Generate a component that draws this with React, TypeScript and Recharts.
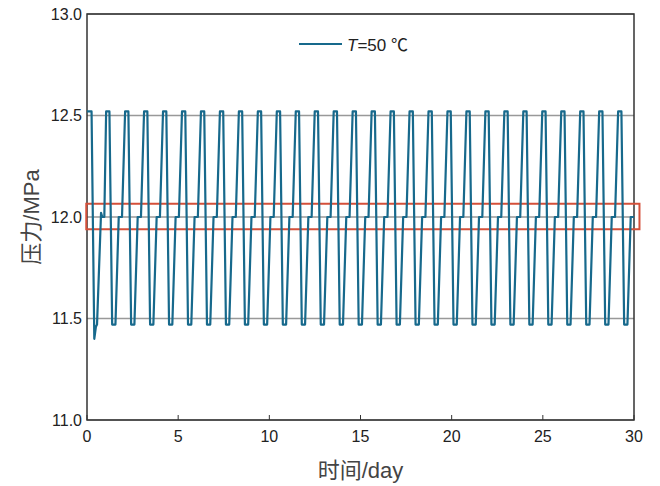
import {
	LineChart,
	Line,
	XAxis,
	YAxis,
	CartesianGrid,
	ReferenceArea,
	Legend,
} from "recharts";

// time in days, pressure in MPa (T = 50 ℃)
const timeDays = [
	0, 0.25, 0.4, 0.49, 0.55, 0.77, 0.84, 0.95,
	1.05, 1.23, 1.38, 1.56, 1.74, 1.92,
	2.09, 2.27, 2.42, 2.6, 2.78, 2.96,
	3.13, 3.31, 3.46, 3.64, 3.82, 4.0,
	4.17, 4.35, 4.5, 4.68, 4.86, 5.04,
	5.21, 5.39, 5.54, 5.72, 5.9, 6.08,
	6.25, 6.43, 6.58, 6.76, 6.94, 7.12,
	7.29, 7.47, 7.62, 7.8, 7.98, 8.16,
	8.33, 8.51, 8.66, 8.84, 9.02, 9.2,
	9.37, 9.55, 9.7, 9.88, 10.06, 10.24,
	10.41, 10.59, 10.74, 10.92, 11.1, 11.28,
	11.45, 11.63, 11.78, 11.96, 12.14, 12.32,
	12.49, 12.67, 12.82, 13.0, 13.18, 13.36,
	13.53, 13.71, 13.86, 14.04, 14.22, 14.4,
	14.57, 14.75, 14.9, 15.08, 15.26, 15.44,
	15.61, 15.79, 15.94, 16.12, 16.3, 16.48,
	16.65, 16.83, 16.98, 17.16, 17.34, 17.52,
	17.69, 17.87, 18.02, 18.2, 18.38, 18.56,
	18.73, 18.91, 19.06, 19.24, 19.42, 19.6,
	19.77, 19.95, 20.1, 20.28, 20.46, 20.64,
	20.81, 20.99, 21.14, 21.32, 21.5, 21.68,
	21.85, 22.03, 22.18, 22.36, 22.54, 22.72,
	22.89, 23.07, 23.22, 23.4, 23.58, 23.76,
	23.93, 24.11, 24.26, 24.44, 24.62, 24.8,
	24.97, 25.15, 25.3, 25.48, 25.66, 25.84,
	26.01, 26.19, 26.34, 26.52, 26.7, 26.88,
	27.05, 27.23, 27.38, 27.56, 27.74, 27.92,
	28.09, 28.27, 28.42, 28.6, 28.78, 28.96,
	29.13, 29.31, 29.46, 29.64, 29.82, 30.0,
];

const pressure = [
	12.52, 12.52, 11.4, 11.46, 11.47, 12.02, 12.0, 12.0,
	12.52, 12.52, 11.47, 11.47, 12.0, 12.0,
	12.52, 12.52, 11.47, 11.47, 12.0, 12.0,
	12.52, 12.52, 11.47, 11.47, 12.0, 12.0,
	12.52, 12.52, 11.47, 11.47, 12.0, 12.0,
	12.52, 12.52, 11.47, 11.47, 12.0, 12.0,
	12.52, 12.52, 11.47, 11.47, 12.0, 12.0,
	12.52, 12.52, 11.47, 11.47, 12.0, 12.0,
	12.52, 12.52, 11.47, 11.47, 12.0, 12.0,
	12.52, 12.52, 11.47, 11.47, 12.0, 12.0,
	12.52, 12.52, 11.47, 11.47, 12.0, 12.0,
	12.52, 12.52, 11.47, 11.47, 12.0, 12.0,
	12.52, 12.52, 11.47, 11.47, 12.0, 12.0,
	12.52, 12.52, 11.47, 11.47, 12.0, 12.0,
	12.52, 12.52, 11.47, 11.47, 12.0, 12.0,
	12.52, 12.52, 11.47, 11.47, 12.0, 12.0,
	12.52, 12.52, 11.47, 11.47, 12.0, 12.0,
	12.52, 12.52, 11.47, 11.47, 12.0, 12.0,
	12.52, 12.52, 11.47, 11.47, 12.0, 12.0,
	12.52, 12.52, 11.47, 11.47, 12.0, 12.0,
	12.52, 12.52, 11.47, 11.47, 12.0, 12.0,
	12.52, 12.52, 11.47, 11.47, 12.0, 12.0,
	12.52, 12.52, 11.47, 11.47, 12.0, 12.0,
	12.52, 12.52, 11.47, 11.47, 12.0, 12.0,
	12.52, 12.52, 11.47, 11.47, 12.0, 12.0,
	12.52, 12.52, 11.47, 11.47, 12.0, 12.0,
	12.52, 12.52, 11.47, 11.47, 12.0, 12.0,
	12.52, 12.52, 11.47, 11.47, 12.0, 12.0,
	12.52, 12.52, 11.47, 11.47, 12.0, 12.0,
];

const xTicks = [0, 5, 10, 15, 20, 25, 30];
const yTicks = [11, 11.5, 12, 12.5, 13];

// highlighted band around 12.0 MPa
const bandX = [-0.04, 30.3];
const bandY = [11.94, 12.065];

const data = timeDays.map((t, i) => ({ t, p: pressure[i] }));

const FONT = '"Liberation Sans", Arial, "Noto Sans CJK SC", sans-serif';
const LINE_COLOR = "#17698c";

const LegendContent = () => (
	<div
		style={{
			display: "flex",
			alignItems: "center",
			fontFamily: FONT,
			fontSize: 17,
			color: "#222",
		}}
	>
		<svg width={43} height={4} style={{ marginRight: 5 }}>
			<line x1={0} y1={2} x2={43} y2={2} stroke={LINE_COLOR} strokeWidth={2} />
		</svg>
		<span>
			<i>T</i>=50 ℃
		</span>
	</div>
);

const YTitle = ({ viewBox }) => {
	const cx = viewBox.x + 31;
	const cy = viewBox.y + viewBox.height / 2;
	return (
		<text
			x={cx}
			y={cy}
			transform={`rotate(-90 ${cx} ${cy})`}
			textAnchor="middle"
			dominantBaseline="central"
			fontFamily={FONT}
			fontSize={22}
			fill="#444"
		>
			压力/MPa
		</text>
	);
};

const App = () => {
	return (
		<div style={{ position: "absolute", left: 0, top: 0, background: "#fff" }}>
			<LineChart
				width={660}
				height={486}
				data={data}
				margin={{ top: 14, right: 26, left: 0, bottom: 0 }}
			>
				<CartesianGrid vertical={false} stroke="#999" strokeWidth={1.5} />
				<XAxis
					dataKey="t"
					type="number"
					domain={[0, 30]}
					ticks={xTicks}
					height={66}
					axisLine={false}
					stroke="#333"
					tickSize={-5}
					tickMargin={16}
					tick={{ fontFamily: FONT, fontSize: 16, fill: "#222" }}
					label={{
						value: "时间/day",
						position: "insideBottom",
						offset: 8,
						fontFamily: FONT,
						fontSize: 22,
						fill: "#444",
					}}
				/>
				<YAxis
					type="number"
					domain={[11, 13]}
					ticks={yTicks}
					width={87}
					axisLine={false}
					tickLine={false}
					tickSize={0}
					tickMargin={5}
					tickFormatter={(v) => v.toFixed(1)}
					tick={{ fontFamily: FONT, fontSize: 16, fill: "#222" }}
					label={{ content: YTitle }}
				/>
				<Legend
					layout="horizontal"
					verticalAlign="middle"
					align="center"
					content={LegendContent}
					wrapperStyle={{ top: 31, left: 299, width: "auto" }}
				/>
				<Line
					type="linear"
					dataKey="p"
					stroke={LINE_COLOR}
					strokeWidth={2.2}
					strokeLinejoin="round"
					dot={false}
					isAnimationActive={false}
				/>
				<ReferenceArea
					x1={0}
					x2={30}
					y1={11}
					y2={13}
					fill="none"
					stroke="#333"
					strokeWidth={1.5}
				/>
				<ReferenceArea
					x1={bandX[0]}
					x2={bandX[1]}
					y1={bandY[0]}
					y2={bandY[1]}
					ifOverflow="visible"
					fill="none"
					stroke="#d4503a"
					strokeWidth={2}
				/>
			</LineChart>
		</div>
	);
};

export default App;
